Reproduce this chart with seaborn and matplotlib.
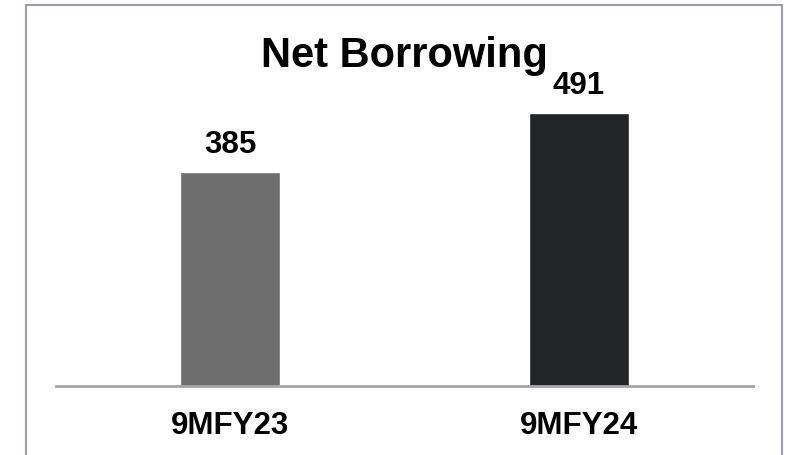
import matplotlib
matplotlib.use("Agg")
import matplotlib.pyplot as plt
import matplotlib.patches as patches
import seaborn as sns
import pandas as pd

# chart data
periods = ["9MFY23", "9MFY24"]
net_borrowing = [385, 491]
bar_colors = ["#6e6e6e", "#232427"]

sns.set_style("white")
plt.rcParams["font.family"] = ["Liberation Sans", "DejaVu Sans"]
plt.rcParams["text.color"] = "black"
plt.rcParams["xtick.color"] = "black"

df = pd.DataFrame({"period": periods, "value": net_borrowing})

fig = plt.figure(figsize=(7.91, 4.56), dpi=100)
ax = fig.add_axes([56 / 791, 1 - 387 / 456, (753 - 56) / 791, (387 - 30) / 456])

sns.barplot(data=df, x="period", y="value", hue="period", palette=bar_colors,
            width=0.286, legend=False, ax=ax, saturation=1)

ax.set_xlim(-0.5, 1.5)
ax.set_ylim(0, 642)

# value labels above bars
for cont in ax.containers:
    ax.bar_label(cont, fmt="%d", padding=9, fontsize=22.5, fontweight="bold",
                 color="black")

ax.set_xlabel("")
ax.set_ylabel("")
ax.set_yticks([])
ax.tick_params(axis="x", length=0, pad=17, labelsize=22.5, labelcolor="black")
for lbl in ax.get_xticklabels():
    lbl.set_fontweight("bold")

for side in ["top", "left", "right"]:
    ax.spines[side].set_visible(False)
ax.spines["bottom"].set_color("#a3a3ab")
ax.spines["bottom"].set_linewidth(2)

# title
fig.text(404 / 791, 1 - 67 / 456, "Net Borrowing", ha="center", va="baseline",
         fontsize=30, fontweight="bold", color="black")

# outer frame
frame = patches.Rectangle((26 / 791, -0.05), (782 - 26) / 791, 1.05 - 6 / 456,
                          transform=fig.transFigure, fill=False,
                          edgecolor="#9c9caa", linewidth=1.5, clip_on=False)
fig.patches.append(frame)

fig.savefig("out.png", dpi=100)
